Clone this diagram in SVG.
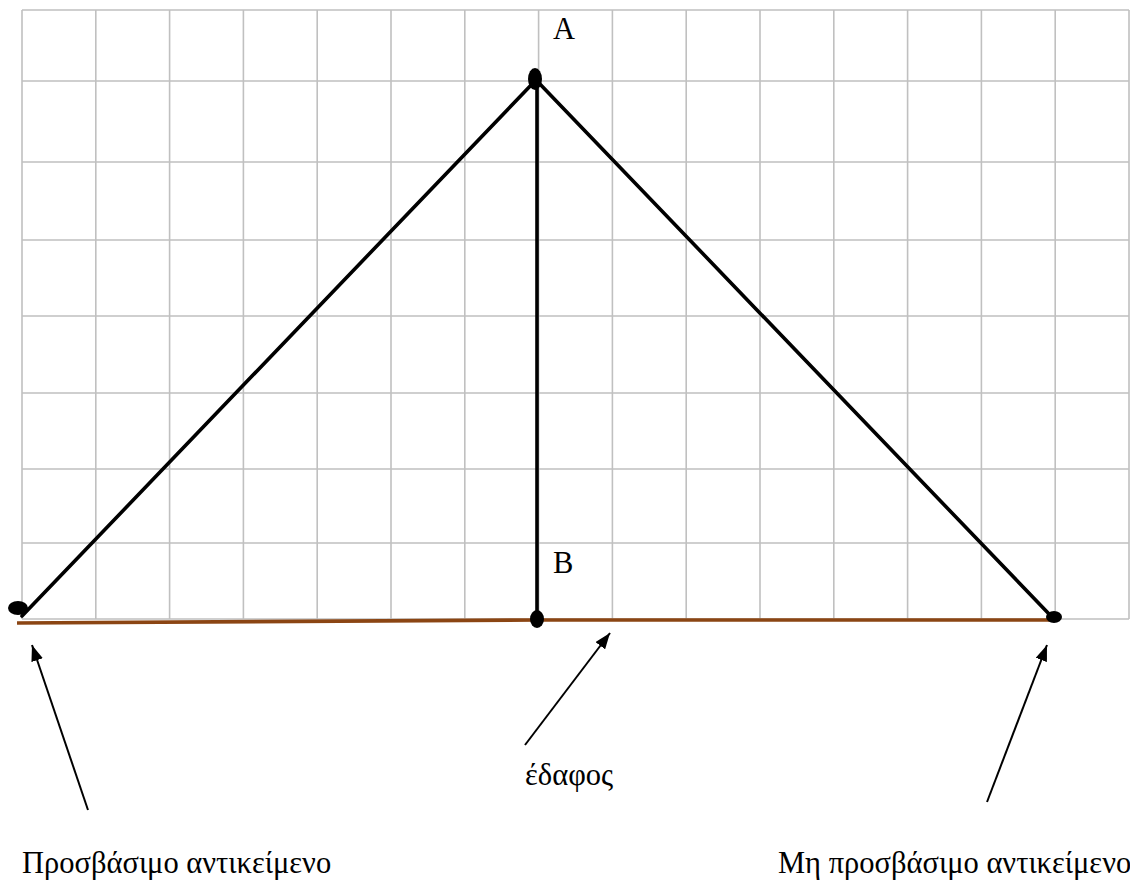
<svg xmlns="http://www.w3.org/2000/svg" width="1130" height="885" viewBox="0 0 1130 885">
<style>
.grid{stroke:#c0c0c0;stroke-width:1.6;fill:none}
.edge{stroke:#000;stroke-width:3.6;fill:none;stroke-linecap:round}
.ground{stroke:#8b4513;stroke-width:3.6;fill:none}
.arrow{stroke:#000;stroke-width:2;fill:none}
.dot{fill:#000}
.lbl{font-family:"Liberation Serif","Times New Roman",serif;font-size:30.5px;fill:#000}
</style>
<defs>
<marker id="ah2" viewBox="0 0 16 12" refX="16" refY="6" markerWidth="16" markerHeight="12" orient="auto" markerUnits="userSpaceOnUse">
<path d="M0,0 L16,6 L0,12 z" fill="#000"/>
</marker>
</defs>
<rect width="1130" height="885" fill="#fff"/>
<g id="grid" class="grid">
<path d="M22,10 V619 M95.8,10 V619 M169.6,10 V619 M243.4,10 V619 M317.2,10 V619 M391,10 V619 M464.8,10 V619 M538.6,10 V619 M612.4,10 V619 M686.2,10 V619 M760,10 V619 M833.8,10 V619 M907.6,10 V619 M981.4,10 V619 M1055.2,10 V619 M1129,10 V619"/>
<path d="M22,10 H1129 M22,81 H1129 M22,162 H1129 M22,240 H1129 M22,316 H1129 M22,393 H1129 M22,469 H1129 M22,543 H1129 M22,619 H1129"/>
</g>
<g id="ground">
<path class="ground" d="M17,623 L537,620 L1050,620"/>
</g>
<g id="connectors">
<path class="edge" d="M22,616 L535,81"/>
<path class="edge" d="M537,81 L537,619"/>
<path class="edge" d="M537,81 L1050,615"/>
<line class="arrow" x1="88" y1="810" x2="32" y2="645" marker-end="url(#ah2)"/>
<line class="arrow" x1="525" y1="745" x2="610" y2="633" marker-end="url(#ah2)"/>
<line class="arrow" x1="987" y1="802" x2="1047" y2="645" marker-end="url(#ah2)"/>
</g>
<g id="nodeA">
<ellipse class="dot" cx="535" cy="79" rx="7" ry="11"/>
<text class="lbl" x="553" y="39">A</text>
</g>
<g id="nodeB">
<ellipse class="dot" cx="537" cy="619" rx="7" ry="9"/>
<text class="lbl" x="553" y="573">B</text>
</g>
<g id="nodeLeft">
<ellipse class="dot" cx="18" cy="608" rx="10" ry="7"/>
</g>
<g id="nodeRight">
<ellipse class="dot" cx="1054" cy="617" rx="8" ry="6"/>
</g>
<g id="labels">
<text class="lbl" x="525" y="785">έδαφος</text>
<text class="lbl" x="22" y="873">Προσβάσιμο αντικείμενο</text>
<text class="lbl" x="778" y="873">Μη προσβάσιμο αντικείμενο</text>
</g>
</svg>
